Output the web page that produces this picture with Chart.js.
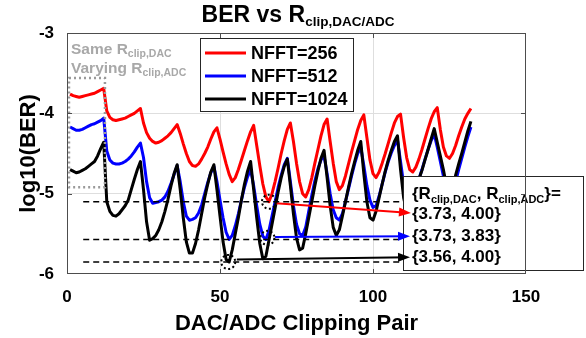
<!DOCTYPE html>
<html>
<head>
<meta charset="utf-8">
<script src="https://cdn.jsdelivr.net/npm/chart.js@4.4.1/dist/chart.umd.min.js"></script>
<style>
  html, body { margin: 0; padding: 0; background: #fff; }
  #wrap { width: 586px; height: 338px; }
</style>
</head>
<body>
<div id="wrap"><canvas id="berChart" width="586" height="338"></canvas></div>
<script>
// data
const pairIdx = Array.from({ length: 132 }, (_, i) => i + 1);

const ber256 = [
  -3.76, -3.78, -3.79, -3.80, -3.79, -3.78, -3.77, -3.76, -3.75, -3.73, -3.71, -3.69,
  -3.97, -4.05, -4.08, -4.09, -4.08, -4.07, -4.06, -4.04, -4.02, -4.00, -3.97, -3.94,
  -4.12, -4.24, -4.31, -4.35, -4.37, -4.36, -4.34, -4.31, -4.28, -4.24, -4.19, -4.14,
  -4.25, -4.38, -4.50, -4.60, -4.65, -4.66, -4.63, -4.57, -4.50, -4.42, -4.32, -4.23,
  -4.18,
  -4.32, -4.48, -4.63, -4.76, -4.85, -4.80, -4.70, -4.58, -4.46, -4.34, -4.23, -4.15,
  -4.40, -4.65, -4.88, -5.04, -5.10, -5.00, -4.85, -4.68, -4.50, -4.34, -4.20, -4.12,
  -4.35, -4.62, -4.85, -5.00, -5.04, -4.95, -4.80, -4.62, -4.45, -4.28, -4.14, -4.07,
  -4.35, -4.62, -4.85, -4.95, -4.90, -4.78, -4.63, -4.48, -4.34, -4.20, -4.09, -4.02,
  -4.30, -4.58, -4.75, -4.80, -4.73, -4.62, -4.50, -4.37, -4.24, -4.12, -4.04, -4.01,
  -4.30, -4.55, -4.70, -4.73, -4.67, -4.57, -4.45, -4.32, -4.19, -4.07, -3.98, -3.93,
  -4.20, -4.42, -4.53, -4.56, -4.50, -4.40, -4.28, -4.17, -4.07, -4.00, -3.94
];

const ber512 = [
  -4.17, -4.19, -4.21, -4.21, -4.20, -4.18, -4.16, -4.14, -4.13, -4.11, -4.09, -4.06,
  -4.47, -4.58, -4.62, -4.63, -4.63, -4.62, -4.60, -4.57, -4.53, -4.48, -4.42, -4.37,
  -4.55, -4.85, -5.05, -5.12, -5.11, -5.10, -5.08, -5.04, -4.97, -4.87, -4.76, -4.65,
  -4.85, -5.10, -5.28, -5.33, -5.32, -5.30, -5.24, -5.14, -5.00, -4.86, -4.74, -4.66,
  -4.85, -5.08, -5.30, -5.48, -5.57, -5.52, -5.40, -5.25, -5.08, -4.92, -4.79, -4.70,
  -4.90, -5.15, -5.38, -5.53, -5.57, -5.46, -5.28, -5.10, -4.92, -4.77, -4.64, -4.56,
  -4.85, -5.15, -5.38, -5.50, -5.52, -5.42, -5.22, -5.02, -4.84, -4.69, -4.58, -4.53,
  -4.75, -5.00, -5.20, -5.30, -5.33, -5.25, -5.10, -4.94, -4.78, -4.63, -4.50, -4.42,
  -4.65, -4.90, -5.08, -5.17, -5.15, -5.03, -4.88, -4.73, -4.60, -4.49, -4.40, -4.33,
  -4.60, -4.88, -5.05, -5.12, -5.08, -4.95, -4.82, -4.70, -4.57, -4.45, -4.34, -4.26,
  -4.42, -4.60, -4.78, -4.95, -5.05, -4.98, -4.85, -4.70, -4.56, -4.42, -4.29, -4.17
];

const ber1024 = [
  -4.70, -4.72, -4.74, -4.73, -4.71, -4.69, -4.66, -4.63, -4.60, -4.53, -4.44, -4.36,
  -5.10, -5.22, -5.27, -5.28, -5.25, -5.20, -5.15, -5.08, -4.95, -4.82, -4.70, -4.60,
  -4.95, -5.35, -5.58, -5.56, -5.52, -5.45, -5.35, -5.22, -5.07, -4.90, -4.75, -4.64,
  -4.95, -5.30, -5.60, -5.74, -5.74, -5.62, -5.45, -5.25, -5.05, -4.88, -4.73, -4.64,
  -4.95, -5.28, -5.60, -5.82, -5.85, -5.70, -5.50, -5.30, -5.08, -4.88, -4.72, -4.60,
  -4.95, -5.30, -5.62, -5.81, -5.78, -5.58, -5.38, -5.18, -4.98, -4.80, -4.66, -4.57,
  -4.90, -5.25, -5.55, -5.70, -5.68, -5.50, -5.30, -5.10, -4.90, -4.72, -4.56, -4.46,
  -4.80, -5.15, -5.42, -5.52, -5.45, -5.28, -5.10, -4.92, -4.75, -4.60, -4.46, -4.35,
  -4.75, -5.10, -5.30, -5.33, -5.22, -5.05, -4.88, -4.72, -4.58, -4.46, -4.35, -4.28,
  -4.70, -5.05, -5.22, -5.25, -5.15, -4.98, -4.82, -4.71, -4.58, -4.45, -4.32, -4.19,
  -4.36, -4.53, -4.70, -4.90, -5.05, -4.95, -4.77, -4.63, -4.50, -4.36, -4.22, -4.10
];

const seriesNames = ['NFFT=256', 'NFFT=512', 'NFFT=1024'];
const seriesColors = ['#ff0000', '#0000ff', '#000000'];

// best-point markers and reference levels
const bestX = [66, 65.5, 52.7];
const bestY = [-5.10, -5.55, -5.85];
const dashLevels = [-5.10, -5.57, -5.85];
const dashFromX = 5.3, dashToX = 110;

// arrows into the annotation box
const arrowFromX = [68.3, 68.0, 55.5];
const arrowFromY = [-5.12, -5.54, -5.82];
const arrowToX = [112.4, 112.1, 112.1];
const arrowToY = [-5.24, -5.53, -5.79];

const boxRows = ['{3.73, 4.00}', '{3.73, 3.83}', '{3.56, 4.00}'];

// grey dotted region: first group (same DAC clip)
const groupBoxX = [0.65, 12.4];
const groupBoxY = [-3.56, -4.92];

const FONT = '"Liberation Sans", Arial, sans-serif';

function xy(ys) { return ys.map((y, i) => ({ x: pairIdx[i], y })); }

function richText(ctx, x, y, parts, align) {
  let w = 0;
  parts.forEach(p => { ctx.font = `bold ${p.size}px ${FONT}`; p.w = ctx.measureText(p.t).width; w += p.w; });
  let cx = align === 'center' ? x - w / 2 : x;
  ctx.textAlign = 'left';
  ctx.textBaseline = 'alphabetic';
  parts.forEach(p => {
    ctx.font = `bold ${p.size}px ${FONT}`;
    ctx.fillText(p.t, cx, y + (p.dy || 0));
    cx += p.w;
  });
}

function arrowHead(ctx, x0, y0, x1, y1, color) {
  const a = Math.atan2(y1 - y0, x1 - x0), L = 12, W = 4.5;
  ctx.fillStyle = color;
  ctx.beginPath();
  ctx.moveTo(x1, y1);
  ctx.lineTo(x1 - L * Math.cos(a) + W * Math.sin(a), y1 - L * Math.sin(a) - W * Math.cos(a));
  ctx.lineTo(x1 - L * Math.cos(a) - W * Math.sin(a), y1 - L * Math.sin(a) + W * Math.cos(a));
  ctx.closePath();
  ctx.fill();
}

const decor = {
  id: 'decor',
  afterDatasetsDraw(chart) {
    const ctx = chart.ctx, sx = chart.scales.x, sy = chart.scales.y;
    ctx.save();

    // grey note + dotted region
    ctx.fillStyle = '#a8a8a8';
    richText(ctx, 71, 54, [{ t: 'Same R', size: 15.5 }, { t: 'clip,DAC', size: 10.5, dy: 3 }]);
    richText(ctx, 71, 73, [{ t: 'Varying R', size: 15.5 }, { t: 'clip,ADC', size: 10.5, dy: 3 }]);
    ctx.strokeStyle = '#9a9a9a';
    ctx.lineWidth = 2.5;
    ctx.setLineDash([2, 3]);
    const gx0 = sx.getPixelForValue(groupBoxX[0]), gx1 = sx.getPixelForValue(groupBoxX[1]);
    const gy0 = sy.getPixelForValue(groupBoxY[0]), gy1 = sy.getPixelForValue(groupBoxY[1]);
    ctx.strokeRect(gx0, gy0, gx1 - gx0, gy1 - gy0);

    // dotted circles on the best points
    ctx.strokeStyle = '#000';
    ctx.lineWidth = 2;
    ctx.setLineDash([2, 2.5]);
    bestX.forEach((bx, i) => {
      ctx.beginPath();
      ctx.arc(sx.getPixelForValue(bx), sy.getPixelForValue(bestY[i]), 7, 0, Math.PI * 2);
      ctx.stroke();
    });
    ctx.setLineDash([]);

    // annotation box
    ctx.fillStyle = '#fff';
    ctx.fillRect(403, 176, 181, 95);
    ctx.strokeStyle = '#262626';
    ctx.lineWidth = 1;
    ctx.strokeRect(403.5, 176.5, 180, 94);
    ctx.fillStyle = '#000';
    richText(ctx, 412, 199, [
      { t: '{R', size: 17 }, { t: 'clip,DAC', size: 11, dy: 4 },
      { t: ', R', size: 17 }, { t: 'clip,ADC', size: 11, dy: 4 }, { t: '}=', size: 17 }
    ]);
    boxRows.forEach((r, i) => richText(ctx, 412, 219 + i * 21.5, [{ t: r, size: 17 }]));

    arrowFromX.forEach((fx, i) => {
      arrowHead(ctx, sx.getPixelForValue(fx), sy.getPixelForValue(arrowFromY[i]),
        sx.getPixelForValue(arrowToX[i]), sy.getPixelForValue(arrowToY[i]), seriesColors[i]);
    });
    ctx.restore();
  },
  afterDraw(chart) {
    const ctx = chart.ctx, a = chart.chartArea, sx = chart.scales.x, sy = chart.scales.y;
    ctx.save();

    // axes box + inward ticks
    ctx.strokeStyle = '#4d4d4d';
    ctx.lineWidth = 1;
    ctx.strokeRect(a.left + 0.5, a.top + 0.5, a.right - a.left - 1, a.bottom - a.top - 1);
    ctx.beginPath();
    [50, 100].forEach(v => {
      const px = Math.round(sx.getPixelForValue(v)) + 0.5;
      ctx.moveTo(px, a.top); ctx.lineTo(px, a.top + 5);
      ctx.moveTo(px, a.bottom); ctx.lineTo(px, a.bottom - 5);
    });
    [-4, -5].forEach(v => {
      const py = Math.round(sy.getPixelForValue(v)) + 0.5;
      ctx.moveTo(a.left, py); ctx.lineTo(a.left + 5, py);
      ctx.moveTo(a.right, py); ctx.lineTo(a.right - 5, py);
    });
    ctx.stroke();

    // legend
    ctx.fillStyle = '#fff';
    ctx.fillRect(200, 38, 154, 74);
    ctx.strokeStyle = '#262626';
    ctx.strokeRect(200.5, 38.5, 153, 73);
    seriesNames.forEach((name, i) => {
      const ly = 53 + i * 23;
      ctx.strokeStyle = seriesColors[i];
      ctx.lineWidth = 3;
      ctx.beginPath(); ctx.moveTo(205, ly); ctx.lineTo(246, ly); ctx.stroke();
      ctx.fillStyle = '#000';
      ctx.font = `bold 18px ${FONT}`;
      ctx.textAlign = 'left';
      ctx.textBaseline = 'middle';
      ctx.fillText(name, 251, ly + 1);
    });

    // title and axis labels
    ctx.fillStyle = '#000';
    richText(ctx, 298, 22, [{ t: 'BER vs R', size: 23 }, { t: 'clip,DAC/ADC', size: 13.5, dy: 4 }], 'center');
    ctx.font = `bold 22px ${FONT}`;
    ctx.textAlign = 'center';
    ctx.textBaseline = 'alphabetic';
    ctx.fillText('DAC/ADC Clipping Pair', (a.left + a.right) / 2, 330);
    ctx.translate(35, (a.top + a.bottom) / 2);
    ctx.rotate(-Math.PI / 2);
    ctx.fillText('log10(BER)', 0, 0);
    ctx.restore();
  }
};

const lineSet = (label, ys, color) => ({
  label, data: xy(ys), borderColor: color, borderWidth: 3,
  pointRadius: 0, tension: 0, borderJoinStyle: 'round'
});

const datasets = [];
dashLevels.forEach(lv => datasets.push({
  data: [{ x: dashFromX, y: lv }, { x: dashToX, y: lv }],
  borderColor: '#000', borderWidth: 1.5, borderDash: [6, 4], pointRadius: 0
}));
arrowFromX.forEach((fx, i) => datasets.push({
  data: [{ x: fx, y: arrowFromY[i] }, { x: arrowToX[i], y: arrowToY[i] }],
  borderColor: seriesColors[i], borderWidth: 2, pointRadius: 0
}));
datasets.push(lineSet(seriesNames[2], ber1024, seriesColors[2]));
datasets.push(lineSet(seriesNames[1], ber512, seriesColors[1]));
datasets.push(lineSet(seriesNames[0], ber256, seriesColors[0]));

const tickFont = { family: FONT, size: 17, weight: 'bold' };

new Chart(document.getElementById('berChart').getContext('2d'), {
  type: 'line',
  data: { datasets },
  options: {
    responsive: false,
    devicePixelRatio: 1,
    animation: false,
    layout: { padding: { top: 33, right: 60, left: 0, bottom: 0 } },
    plugins: { legend: { display: false }, tooltip: { enabled: false }, title: { display: false } },
    scales: {
      x: {
        type: 'linear', min: 0, max: 150,
        afterFit: s => { s.height = 64; },
        ticks: { stepSize: 50, color: '#000', font: tickFont, padding: 13, maxRotation: 0 },
        grid: { color: c => (c.tick && (c.tick.value === 50 || c.tick.value === 100)) ? '#dedede' : 'rgba(0,0,0,0)', drawTicks: false },
        border: { display: false }
      },
      y: {
        type: 'linear', min: -6, max: -3,
        afterFit: s => { s.width = 67; },
        ticks: { stepSize: 1, color: '#000', font: tickFont, padding: 13 },
        grid: { color: c => (c.tick && (c.tick.value === -4 || c.tick.value === -5)) ? '#dedede' : 'rgba(0,0,0,0)', drawTicks: false },
        border: { display: false }
      }
    }
  },
  plugins: [decor]
});
</script>
</body>
</html>
